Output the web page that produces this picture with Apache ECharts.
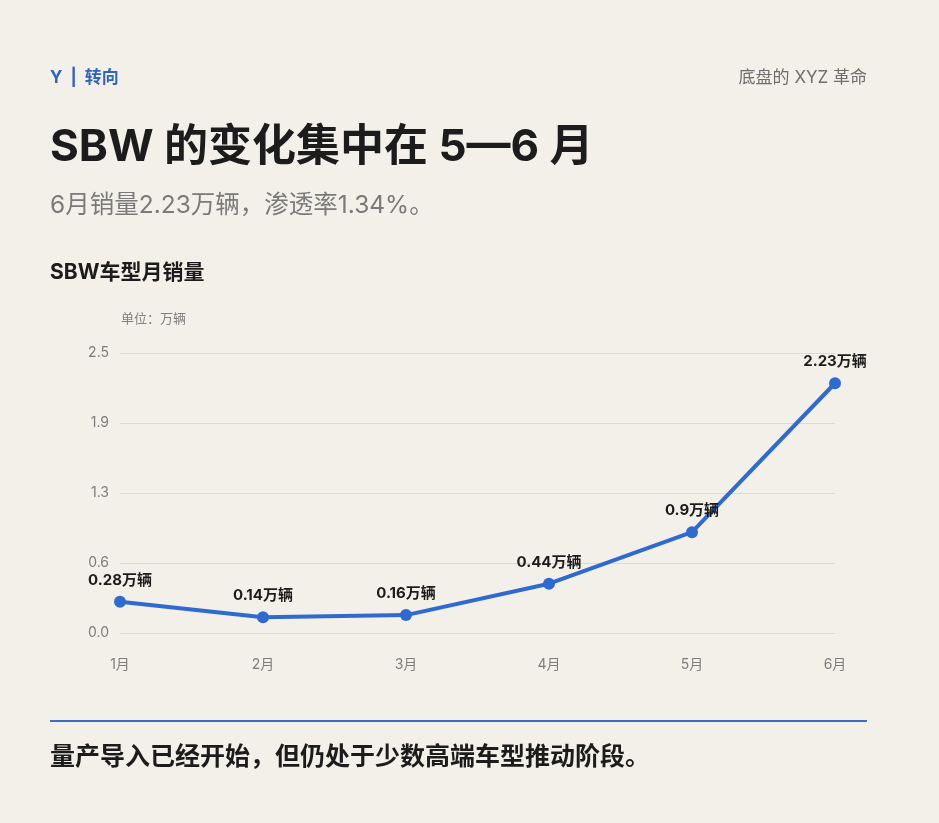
<!DOCTYPE html>
<html>
<head>
<meta charset="utf-8">
<script src="https://cdn.jsdelivr.net/npm/echarts@6/dist/echarts.min.js"></script>
<style>
html,body{margin:0;padding:0;background:#f3f0e9;}
#c{width:939px;height:823px;}
</style>
</head>
<body>
<div id="c"></div>
<script>
const months = ['1月','2月','3月','4月','5月','6月'];
const sales = [0.28, 0.14, 0.16, 0.44, 0.9, 2.23];
const yMin = 0, yMax = 2.5, yInterval = 0.625;

const FONT = 'Inter, "Noto Sans CJK SC", sans-serif';
const chart = echarts.init(document.getElementById('c'), null, {renderer:'canvas'});
const t = (text, pos, style) => Object.assign({text, padding: 0, textStyle: Object.assign({fontFamily: FONT}, style)}, pos);
chart.setOption({
  backgroundColor: '#f3f0e9',
  textStyle: {fontFamily: FONT},
  title: [
    t('Y  |  转向', {left: 50, top: 69}, {color:'#2f63c4', fontSize: 17, fontWeight: 'bold'}),
    t('底盘的 XYZ 革命', {right: 72, top: 69}, {color:'#6e6e6e', fontSize: 17, fontWeight: 'normal'}),
    t('SBW 的变化集中在 5—6 月', {left: 50, top: 126}, {color:'#1c1c1c', fontSize: 44, fontWeight: 'bold'}),
    t('6月销量2.23万辆，渗透率1.34%。', {left: 50, top: 193}, {color:'#7a7a7a', fontSize: 24.5, fontWeight: 'normal'}),
    t('SBW车型月销量', {left: 50, top: 262}, {color:'#1c1c1c', fontSize: 21, fontWeight: 'bold'}),
    t('单位：万辆', {left: 121, top: 313}, {color:'#808080', fontSize: 13, fontWeight: 'normal'}),
    t('量产导入已经开始，但仍处于少数高端车型推动阶段。', {left: 50, top: 745}, {color:'#1c1c1c', fontSize: 25, fontWeight: 'bold'})
  ],
  graphic: [
    {type:'line', shape:{x1:50, y1:721, x2:867, y2:721}, style:{stroke:'#3a6cc8', lineWidth:2}}
  ],
  grid: {left: 120, right: 104, top: 353, bottom: 190, containLabel: false},
  xAxis: {
    type: 'category', data: months, boundaryGap: false,
    axisLine: {show:false}, axisTick: {show:false},
    axisLabel: {color:'#7d7d7d', fontSize: 14, margin: 25, fontFamily: FONT}
  },
  yAxis: {
    type: 'value', min: yMin, max: yMax, interval: yInterval,
    axisLine: {show:false}, axisTick: {show:false},
    axisLabel: {color:'#7d7d7d', fontSize: 14, margin: 11, fontFamily: FONT, formatter: v => v.toFixed(1)},
    splitLine: {lineStyle: {color:'#dedad2', width: 1}}
  },
  series: [{
    type: 'line', data: sales,
    symbol: 'circle', symbolSize: 12,
    lineStyle: {color:'#2f6ad0', width: 4},
    itemStyle: {color:'#2f6ad0'},
    label: {show: true, position: 'top', distance: 8, color:'#1c1c1c', fontSize: 15, fontWeight:'bold', fontFamily: FONT,
      formatter: p => p.value + '万辆'},
    animation: false
  }],
  animation: false
});
</script>
</body>
</html>
